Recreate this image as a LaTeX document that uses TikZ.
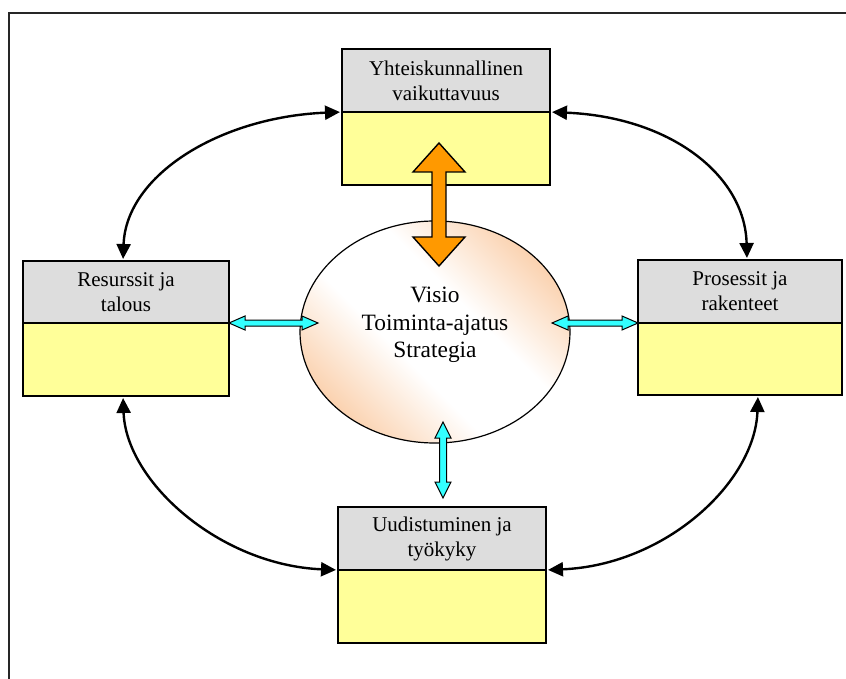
\documentclass[tikz,border=0pt]{standalone}
\usepackage{fontspec}
\setmainfont{Liberation Serif}
\usetikzlibrary{calc,arrows.meta,shapes.geometric}

\definecolor{hdrgray}{RGB}{221,221,221}
\definecolor{bodyyellow}{RGB}{255,255,153}
\definecolor{peach}{RGB}{249,192,144}
\definecolor{flowcyan}{RGB}{51,255,255}
\definecolor{floworange}{RGB}{255,153,0}

% diagonal fill of the core: peach in two corners, a broad white band between them
\pgfdeclareverticalshading{corefill}{100bp}{%
  color(0bp)=(peach); color(18bp)=(peach); color(42bp)=(white);
  color(58bp)=(white); color(82bp)=(peach); color(100bp)=(peach)}

% Double-headed block arrow between two points:
% #1 style, #2 start tip, #3 end tip, #4 shaft half width, #5 head half width, #6 head length
\newcommand{\dblblockarrow}[6]{%
  \path ($(#2)!#6!(#3)$) coordinate (dbA) ($(#3)!#6!(#2)$) coordinate (dbB);
  \draw[#1] (#2)
    -- ($(dbA)!#5!90:(#3)$) -- ($(dbA)!#4!90:(#3)$)
    -- ($(dbB)!#4!-90:(#2)$) -- ($(dbB)!#5!-90:(#2)$)
    -- (#3)
    -- ($(dbB)!#5!90:(#2)$) -- ($(dbB)!#4!90:(#2)$)
    -- ($(dbA)!#4!-90:(#3)$) -- ($(dbA)!#5!-90:(#3)$)
    -- cycle;}

\begin{document}
\begin{tikzpicture}[x=1pt,y=-1pt,
  hdr/.style={draw=black, line width=1.6pt, fill=hdrgray, anchor=north west,
    inner sep=0pt, outer sep=0pt, align=center, font=\fontsize{21pt}{25pt}\selectfont},
  bodybox/.style={draw=black, line width=1.6pt, fill=bodyyellow, anchor=north west,
    inner sep=0pt, outer sep=0pt},
  conn/.style={line width=2.4pt, black,
    {Triangle[length=15pt,width=14pt]}-{Triangle[length=15pt,width=14pt]},
    shorten <=2pt, shorten >=2pt},
  cyanflow/.style={draw=black, line width=1pt, fill=flowcyan, line join=miter},
  orangeflow/.style={draw=black, line width=1.4pt, fill=floworange, line join=miter}]

\useasboundingbox (0,0) rectangle (846,679);

% outer frame
\draw[line width=2pt, black!85] (9,679) -- (9,13) -- (846,13);

% four boxes: grey title part above a yellow body
\node[hdr, minimum width=208pt, minimum height=63pt] (topH) at (342,49)
  {Yhteiskunnallinen\\vaikuttavuus};
\node[bodybox, minimum width=208pt, minimum height=73pt] (topB) at (topH.south west) {};

\node[hdr, minimum width=206pt, minimum height=62pt] (leftH) at (23,261)
  {Resurssit ja\\talous};
\node[bodybox, minimum width=206pt, minimum height=73pt] (leftB) at (leftH.south west) {};

\node[hdr, minimum width=204pt, minimum height=63pt] (rightH) at (638,260)
  {Prosessit ja\\rakenteet};
\node[bodybox, minimum width=204pt, minimum height=72pt] (rightB) at (rightH.south west) {};

\node[hdr, minimum width=208pt, minimum height=63pt] (botH) at (338,507)
  {Uudistuminen ja\\työkyky};
\node[bodybox, minimum width=208pt, minimum height=73pt] (botB) at (botH.south west) {};

% central ellipse
\node[ellipse, draw=black, line width=1.2pt, minimum width=270pt, minimum height=222pt,
  shading=corefill, shading angle=-45] (core) at (435,332) {};
\node[align=center, inner sep=0pt, font=\fontsize{23.4pt}{27.5pt}\selectfont,
  yshift=7pt] (coreText) at (core.center) {Visio\\Toiminta-ajatus\\Strategia};

% curved links between neighbouring boxes
\draw[conn] (topB.north west) .. controls (220,117) and (126,175) .. ([xshift=-3pt]leftH.north);
\draw[conn] (topB.north east) .. controls (670,117) and (745,175) .. ([xshift=7pt]rightH.north);
\draw[conn] ([xshift=-3pt]leftB.south) .. controls (126,482) and (220,565) .. (botB.north west);
\draw[conn] ([xshift=18pt]rightB.south) .. controls (755,482) and (666,565) .. (botB.north east);

% block arrows between the core and the boxes
\coordinate (oTop) at (439,143);
\coordinate (oBot) at (439,266);
\dblblockarrow{orangeflow}{oTop}{oBot}{7pt}{26pt}{29pt}

\coordinate (cLa) at (leftB.north east);
\coordinate (cLb) at ($(cLa)+(89,0)$);
\dblblockarrow{cyanflow}{cLa}{cLb}{3pt}{7pt}{16pt}

\coordinate (cRb) at (rightB.north west);
\coordinate (cRa) at ($(cRb)+(-86,0)$);
\dblblockarrow{cyanflow}{cRa}{cRb}{3pt}{7pt}{16pt}

\coordinate (cBa) at (443,422);
\coordinate (cBb) at (443,498);
\dblblockarrow{cyanflow}{cBa}{cBb}{3.5pt}{8pt}{16pt}

\end{tikzpicture}
\end{document}
